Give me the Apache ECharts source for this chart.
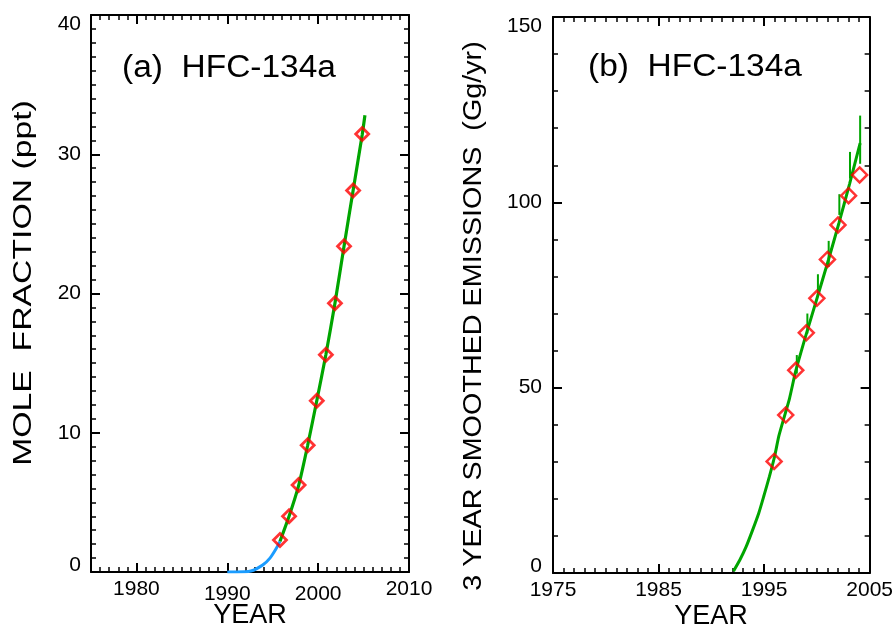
<!DOCTYPE html>
<html>
<head>
<meta charset="utf-8">
<script src="https://cdn.jsdelivr.net/npm/echarts@6/dist/echarts.min.js"></script>
<style>
html,body{margin:0;padding:0;background:#fff;}
#chart{width:896px;height:626px;}
</style>
</head>
<body>
<div id="chart"></div>
<script>
// ---------- DATA ----------
// Panel (a): mole fraction (ppt)
const aBlueYears = [1990.0, 1991.0, 1992.0, 1992.6, 1993.2, 1993.9, 1994.7, 1995.4, 1995.8];
const aBlueVals  = [0.0, 0.0, 0.01, 0.07, 0.23, 0.5, 1.0, 1.7, 2.2];
const aGreenYears = [1995.8, 1996.8, 1997.85, 1998.85, 1999.85, 2000.85, 2001.85, 2002.85, 2003.85, 2004.85, 2005.15];
const aGreenVals  = [2.2, 4.0, 6.2, 9.1, 12.3, 15.6, 19.3, 23.4, 27.4, 31.4, 32.8];
const aObsYears = [1995.8, 1996.8, 1997.85, 1998.85, 1999.85, 2000.85, 2001.85, 2002.85, 2003.85, 2004.85];
const aObsVals  = [2.3, 4.0, 6.25, 9.1, 12.3, 15.6, 19.3, 23.4, 27.4, 31.45];
const aXTicks = [1980, 1990, 2000, 2010];

// Panel (b): 3-year smoothed emissions (Gg/yr)
const bGreenYears = [1992.1, 1992.7, 1993.3, 1993.9, 1994.5, 1995.0, 1995.5, 1996.0, 1996.4, 1997.0, 1997.4, 1998.0, 1999.0, 2000.0, 2001.1, 2002.1, 2003.1, 2004.1];
const bGreenVals  = [0.5, 3.5, 7.1, 11.5, 16.2, 21.0, 26.0, 31.5, 37.0, 43.0, 47.0, 54.5, 64.5, 74.0, 84.5, 94.5, 105.0, 116.0];
const bSpikeYears = [1998.1, 1999.1, 2000.1, 2001.12, 2002.13, 2003.14, 2004.1];
const bSpikeLo    = [53.8, 64.6, 74.5, 82.6, 96.6, 106.4, 110.4];
const bSpikeHi    = [58.8, 70.0, 80.6, 89.6, 102.2, 113.6, 123.4];
const bObsYears = [1995.95, 1997.05, 1998.0, 1999.0, 2000.0, 2001.0, 2002.0, 2003.0, 2004.05];
const bObsVals  = [30.1, 42.6, 54.7, 64.8, 74.1, 84.6, 93.9, 101.8, 107.4];
const bXTicks = [1975, 1985, 1995, 2005];

// ---------- CHART ----------
const FONT = '"Liberation Sans", Arial, Helvetica, sans-serif';
const GREEN = '#00a500', BLUE = '#1a9cff', RED = '#ff0000';
const LBL = 21;

function pairs(xs, ys){ return xs.map((x,i)=>[x, ys[i]]); }

function xAxesFor(grid, min, max, majors, labelRich){
  const common = {type:'value', gridIndex:grid, min:min, max:max, splitLine:{show:false}};
  return [
    Object.assign({}, common, {position:'bottom',
      axisLine:{show:true, onZero:false, lineStyle:{color:'#000', width:2}},
      axisTick:{show:true, inside:true, length:9, customValues:majors, lineStyle:{color:'#000', width:2}},
      axisLabel:{show:true, customValues:majors, margin:7, color:'#000', fontSize:LBL, fontFamily:FONT,
        formatter:labelRich.fmt, rich:labelRich.rich}}),
    Object.assign({}, common, {position:'bottom', interval:1,
      axisLine:{show:false, onZero:false},
      axisTick:{show:true, inside:true, length:5, lineStyle:{color:'#000', width:1.5}},
      axisLabel:{show:false}}),
    Object.assign({}, common, {position:'top',
      axisLine:{show:true, onZero:false, lineStyle:{color:'#000', width:2}},
      axisTick:{show:true, inside:true, length:9, customValues:majors, lineStyle:{color:'#000', width:2}},
      axisLabel:{show:false}}),
    Object.assign({}, common, {position:'top', interval:1,
      axisLine:{show:false, onZero:false},
      axisTick:{show:true, inside:true, length:5, lineStyle:{color:'#000', width:1.5}},
      axisLabel:{show:false}})
  ];
}
function yAxesFor(grid, min, max, major, minor, margin, fmt, rich){
  const common = {type:'value', gridIndex:grid, min:min, max:max, splitLine:{show:false}};
  return [
    Object.assign({}, common, {position:'left', interval:major,
      axisLine:{show:true, onZero:false, lineStyle:{color:'#000', width:2}},
      axisTick:{show:true, inside:true, length:9, lineStyle:{color:'#000', width:2}},
      axisLabel:{show:true, margin:margin, color:'#000', fontSize:LBL, fontFamily:FONT, formatter:fmt, rich:rich}}),
    Object.assign({}, common, {position:'left', interval:minor,
      axisLine:{show:false, onZero:false},
      axisTick:{show:true, inside:true, length:5, lineStyle:{color:'#000', width:1.5}},
      axisLabel:{show:false}}),
    Object.assign({}, common, {position:'right', interval:major,
      axisLine:{show:true, onZero:false, lineStyle:{color:'#000', width:2}},
      axisTick:{show:true, inside:true, length:9, lineStyle:{color:'#000', width:2}},
      axisLabel:{show:false}}),
    Object.assign({}, common, {position:'right', interval:minor,
      axisLine:{show:false, onZero:false},
      axisTick:{show:true, inside:true, length:5, lineStyle:{color:'#000', width:1.5}},
      axisLabel:{show:false}})
  ];
}

const richBase = {fontSize:LBL, fontFamily:FONT, color:'#000'};
const aXLabel = {
  fmt: v => (v === 1990 || v === 2000) ? '{lo|' + v + '}' : '{n|' + v + '}',
  rich: {n: Object.assign({}, richBase), lo: Object.assign({padding:[5,0,0,0]}, richBase)}
};
const bXLabel = {
  fmt: v => '{n|' + v + '}',
  rich: {n: Object.assign({}, richBase)}
};
const yRich = {
  n: Object.assign({}, richBase),
  up: Object.assign({padding:[0,0,14,0]}, richBase),
  dn: Object.assign({padding:[18,0,0,0]}, richBase)
};
const aYFmt = v => v === 0 ? '{up|0}' : (v === 40 ? '{dn|40}' : '{n|' + v + '}');
const bYFmt = v => v === 0 ? '{up|0}' : (v === 150 ? '{dn|150}' : '{n|' + v + '}');

const series = [
  {type:'line', xAxisIndex:0, yAxisIndex:0, data:pairs(aBlueYears, aBlueVals), showSymbol:false, smooth:0.3,
   lineStyle:{color:BLUE, width:3}, z:3},
  {type:'line', xAxisIndex:0, yAxisIndex:0, data:pairs(aGreenYears, aGreenVals), showSymbol:false, smooth:0.2,
   lineStyle:{color:GREEN, width:3.2}, z:3},
  {type:'scatter', xAxisIndex:0, yAxisIndex:0, data:pairs(aObsYears, aObsVals), symbol:'diamond', symbolSize:[13,13],
   itemStyle:{color:'rgba(0,0,0,0)', borderColor:RED, borderWidth:2.8}, z:5},
  {type:'line', xAxisIndex:4, yAxisIndex:4, data:pairs(bGreenYears, bGreenVals), showSymbol:false, smooth:0.2,
   lineStyle:{color:GREEN, width:3}, z:3}
];
bSpikeYears.forEach((yr, i) => {
  series.push({type:'line', xAxisIndex:4, yAxisIndex:4, data:[[yr, bSpikeLo[i]], [yr, bSpikeHi[i]]], showSymbol:false,
    lineStyle:{color:GREEN, width:2}, z:3});
});
series.push({type:'scatter', xAxisIndex:4, yAxisIndex:4, data:pairs(bObsYears, bObsVals), symbol:'diamond', symbolSize:[15,15],
  itemStyle:{color:'rgba(0,0,0,0)', borderColor:RED, borderWidth:2.5}, z:5});

const option = {
  animation:false,
  backgroundColor:'#fff',
  grid:[
    {left:91, top:15, width:318, height:557, containLabel:false},
    {left:553, top:17, width:318, height:556, containLabel:false}
  ],
  xAxis: xAxesFor(0, 1975, 2010, aXTicks, aXLabel).concat(xAxesFor(1, 1975, 2005, bXTicks, bXLabel)),
  yAxis: yAxesFor(0, 0, 40, 10, 1, 10, aYFmt, yRich).concat(yAxesFor(1, 0, 150, 50, 10, 11, bYFmt, yRich)),
  series: series,
  graphic:[
    {type:'text', x:229, y:68, scaleX:1.08, style:{text:'(a)  HFC-134a', fontSize:31, fontFamily:FONT, fill:'#000', align:'center', verticalAlign:'middle'}},
    {type:'text', x:695, y:67, scaleX:1.08, style:{text:'(b)  HFC-134a', fontSize:31, fontFamily:FONT, fill:'#000', align:'center', verticalAlign:'middle'}},
    {type:'text', x:24, y:283, rotation:Math.PI/2, scaleX:1.35, style:{text:'MOLE  FRACTION (ppt)', fontSize:25, fontFamily:FONT, fill:'#000', align:'center', verticalAlign:'middle'}},
    {type:'text', x:474, y:316, rotation:Math.PI/2, scaleX:1.15, style:{text:'3 YEAR SMOOTHED EMISSIONS  (Gg/yr)', fontSize:25, fontFamily:FONT, fill:'#000', align:'center', verticalAlign:'middle'}},
    {type:'text', x:250, y:616, style:{text:'YEAR', fontSize:27, fontFamily:FONT, fill:'#000', align:'center', verticalAlign:'middle'}},
    {type:'text', x:711, y:617, style:{text:'YEAR', fontSize:27, fontFamily:FONT, fill:'#000', align:'center', verticalAlign:'middle'}}
  ]
};

const chart = echarts.init(document.getElementById('chart'), null, {renderer:'canvas'});
chart.setOption(option);
</script>
</body>
</html>
